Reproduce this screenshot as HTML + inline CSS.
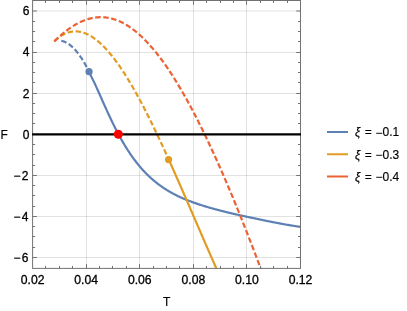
<!DOCTYPE html>
<html><head><meta charset="utf-8"><title>F vs T</title>
<style>html,body{margin:0;padding:0;background:#fff;}svg{display:block;will-change:transform;}body{font-family:"Liberation Sans",sans-serif;}</style>
</head><body>
<svg width="407" height="311" viewBox="0 0 407 311">
<rect width="407" height="311" fill="#fff"/>
<path d="M86.50,0.50 V268.40 M139.50,0.50 V268.40 M193.50,0.50 V268.40 M246.50,0.50 V268.40" stroke="#000" stroke-opacity="0.115" stroke-width="1" fill="none"/>
<path d="M32.60,257.50 H300.50 M32.60,216.50 H300.50 M32.60,175.50 H300.50 M32.60,93.50 H300.50 M32.60,52.50 H300.50 M32.60,11.00 H300.50" stroke="#000" stroke-opacity="0.115" stroke-width="1" fill="none"/>
<clipPath id="c"><rect x="32.60" y="0.50" width="267.90" height="267.90"/></clipPath>
<g clip-path="url(#c)" fill="none" stroke-width="2.2" stroke-linejoin="round">
<path d="M61.30,40.82 L61.77,40.92 L62.24,41.03 L62.71,41.16 L63.18,41.30 L63.65,41.45 L64.12,41.62 L64.59,41.81 L65.06,42.01 L65.53,42.22 L65.99,42.45 L66.46,42.70 L66.93,42.96 L67.40,43.23 L67.87,43.52 L68.34,43.82 L68.81,44.13 L69.28,44.47 L69.75,44.81 L70.22,45.17 L70.69,45.55 L71.16,45.94 L71.63,46.34 L72.10,46.76 L72.57,47.19 L73.04,47.64 L73.51,48.10 L73.98,48.58 L74.45,49.07 L74.92,49.58 L75.38,50.10 L75.85,50.63 L76.32,51.18 L76.79,51.75 L77.26,52.33 L77.73,52.92 L78.20,53.53 L78.67,54.15 L79.14,54.79 L79.61,55.44 L80.08,56.11 L80.55,56.79 L81.02,57.49 L81.49,58.20 L81.96,58.92 L82.43,59.66 L82.90,60.42 L83.37,61.19 L83.84,61.97 L84.31,62.77 L84.77,63.58 L85.24,64.41 L85.71,65.25 L86.18,66.11 L86.65,66.98 L87.12,67.86 L87.59,68.76 L88.06,69.68 L88.53,70.61 L89.00,71.55" stroke="#5E81B5" stroke-dasharray="5.5 2.53"/>
<path d="M88.70,71.83 L89.41,73.06 L90.12,74.34 L90.83,75.66 L91.54,77.03 L92.25,78.43 L92.95,79.86 L93.66,81.32 L94.37,82.81 L95.08,84.32 L95.79,85.86 L96.50,87.40 L97.21,88.96 L97.92,90.54 L98.63,92.12 L99.34,93.71 L100.04,95.30 L100.75,96.90 L101.46,98.49 L102.17,100.09 L102.88,101.69 L103.59,103.28 L104.30,104.86 L105.01,106.45 L105.72,108.02 L106.43,109.59 L107.13,111.14 L107.84,112.69 L108.55,114.22 L109.26,115.75 L109.97,117.26 L110.68,118.76 L111.39,120.25 L112.10,121.72 L112.81,123.18 L113.52,124.62 L114.23,126.05 L114.93,127.46 L115.64,128.86 L116.35,130.24 L117.06,131.60 L117.77,132.95 L118.48,134.28 L119.19,135.59 L119.90,136.89 L120.61,138.17 L121.32,139.43 L122.02,140.68 L122.73,141.91 L123.44,143.12 L124.15,144.31 L124.86,145.49 L125.57,146.65 L126.28,147.80 L126.99,148.92 L127.70,150.03 L128.41,151.12 L129.11,152.20 L129.82,153.26 L130.53,154.30 L131.24,155.33 L131.95,156.34 L132.66,157.34 L133.37,158.32 L134.08,159.28 L134.79,160.23 L135.50,161.16 L136.21,162.08 L136.91,162.98 L137.62,163.87 L138.33,164.75 L139.04,165.61 L139.75,166.45 L140.46,167.28 L141.17,168.10 L141.88,168.90 L142.59,169.69 L143.30,170.47 L144.00,171.23 L144.71,171.98 L145.42,172.72 L146.13,173.45 L146.84,174.16 L147.55,174.86 L148.26,175.55 L148.97,176.23 L149.68,176.89 L150.39,177.55 L151.09,178.19 L151.80,178.83 L152.51,179.45 L153.22,180.06 L153.93,180.66 L154.64,181.25 L155.35,181.83 L156.06,182.40 L156.77,182.96 L157.48,183.52 L158.18,184.06 L158.89,184.59 L159.60,185.12 L160.31,185.63 L161.02,186.14 L161.73,186.64 L162.44,187.13 L163.15,187.61 L163.86,188.09 L164.57,188.55 L165.28,189.01 L165.98,189.46 L166.69,189.91 L167.40,190.35 L168.11,190.78 L168.82,191.20 L169.53,191.62 L170.24,192.03 L170.95,192.43 L171.66,192.83 L172.37,193.22 L173.07,193.60 L173.78,193.98 L174.49,194.35 L175.20,194.72 L175.91,195.08 L176.62,195.44 L177.33,195.79 L178.04,196.14 L178.75,196.48 L179.46,196.81 L180.17,197.14 L180.89,197.47 L181.61,197.79 L182.33,198.11 L183.05,198.42 L183.77,198.73 L184.49,199.03 L185.21,199.33 L185.93,199.63 L186.65,199.92 L187.37,200.21 L188.09,200.49 L188.81,200.77 L189.53,201.05 L190.25,201.32 L190.97,201.59 L191.69,201.86 L192.41,202.12 L193.13,202.39 L193.85,202.64 L194.57,202.90 L195.28,203.15 L196.00,203.40 L196.72,203.64 L197.44,203.88 L198.16,204.12 L198.88,204.36 L199.60,204.60 L200.32,204.83 L201.03,205.06 L201.74,205.29 L202.44,205.51 L203.15,205.74 L203.86,205.96 L204.57,206.17 L205.28,206.39 L205.99,206.61 L206.70,206.82 L207.41,207.03 L208.12,207.24 L208.83,207.45 L209.54,207.65 L210.24,207.85 L210.95,208.06 L211.66,208.26 L212.37,208.45 L213.08,208.65 L213.79,208.85 L214.50,209.04 L215.21,209.23 L215.92,209.42 L216.63,209.61 L217.33,209.80 L218.04,209.99 L218.75,210.17 L219.46,210.36 L220.17,210.54 L220.88,210.72 L221.59,210.90 L222.30,211.08 L223.01,211.26 L223.72,211.44 L224.42,211.62 L225.13,211.79 L225.84,211.97 L226.55,212.14 L227.26,212.31 L227.97,212.48 L228.68,212.65 L229.39,212.82 L230.10,212.99 L230.81,213.16 L231.52,213.33 L232.22,213.49 L232.93,213.66 L233.64,213.82 L234.35,213.99 L235.06,214.15 L235.77,214.31 L236.48,214.47 L237.19,214.63 L237.90,214.79 L238.61,214.95 L239.31,215.11 L240.02,215.27 L240.73,215.43 L241.44,215.58 L242.15,215.74 L242.86,215.89 L243.57,216.05 L244.28,216.20 L244.99,216.35 L245.70,216.51 L246.40,216.66 L247.11,216.81 L247.82,216.96 L248.53,217.11 L249.24,217.26 L249.95,217.41 L250.66,217.56 L251.37,217.70 L252.08,217.85 L252.79,218.00 L253.49,218.14 L254.20,218.29 L254.91,218.43 L255.62,218.59 L256.33,218.74 L257.04,218.89 L257.75,219.04 L258.46,219.19 L259.17,219.35 L259.88,219.50 L260.59,219.64 L261.29,219.79 L262.00,219.94 L262.71,220.09 L263.42,220.24 L264.13,220.38 L264.84,220.53 L265.55,220.67 L266.26,220.82 L266.97,220.96 L267.68,221.11 L268.38,221.25 L269.09,221.39 L269.80,221.53 L270.51,221.67 L271.22,221.81 L271.93,221.95 L272.64,222.09 L273.35,222.23 L274.06,222.36 L274.77,222.50 L275.47,222.64 L276.18,222.77 L276.89,222.91 L277.60,223.04 L278.31,223.17 L279.02,223.31 L279.73,223.44 L280.44,223.57 L281.15,223.70 L281.86,223.83 L282.57,223.96 L283.27,224.08 L283.98,224.21 L284.69,224.34 L285.40,224.46 L286.11,224.58 L286.82,224.71 L287.53,224.83 L288.24,224.95 L288.95,225.07 L289.66,225.19 L290.36,225.31 L291.07,225.43 L291.78,225.55 L292.49,225.66 L293.20,225.78 L293.91,225.89 L294.62,226.01 L295.33,226.12 L296.04,226.23 L296.75,226.34 L297.45,226.45 L298.16,226.56 L298.87,226.67 L299.58,226.77 L300.29,226.88 L301.00,226.98" stroke="#5E81B5"/>
<path d="M54.30,41.29 L54.72,40.89 L55.13,40.50 L55.55,40.12 L55.96,39.75 L56.38,39.38 L56.79,39.02 L57.21,38.68 L57.62,38.34 L58.04,38.01 L58.45,37.68 L58.87,37.37 L59.28,37.06 L59.70,36.77 L60.11,36.48 L60.53,36.20 L60.94,35.92 L61.36,35.66 L61.78,35.40 L62.19,35.16 L62.61,34.92 L63.02,34.69 L63.44,34.46 L63.85,34.25 L64.27,34.04 L64.68,33.84 L65.10,33.65 L65.51,33.47 L65.93,33.29 L66.34,33.12 L66.76,32.96 L67.17,32.81 L67.59,32.67 L68.00,32.53 L68.42,32.40 L68.84,32.28 L69.25,32.17 L69.67,32.07 L70.08,31.97 L70.50,31.88 L70.91,31.79 L71.33,31.72 L71.74,31.65 L72.16,31.59 L72.57,31.54 L72.99,31.49 L73.40,31.46 L73.82,31.43 L74.23,31.40 L74.65,31.39 L75.06,31.38 L75.48,31.38 L75.89,31.38 L76.31,31.39 L76.73,31.41 L77.14,31.44 L77.56,31.47 L77.97,31.51 L78.39,31.56 L78.80,31.62 L79.22,31.68 L79.63,31.75 L80.05,31.82 L80.46,31.91 L80.88,32.00 L81.29,32.09 L81.71,32.19 L82.12,32.30 L82.54,32.42 L82.95,32.54 L83.37,32.67 L83.79,32.81 L84.20,32.95 L84.62,33.10 L85.03,33.26 L85.45,33.42 L85.86,33.59 L86.28,33.76 L86.69,33.95 L87.11,34.13 L87.52,34.33 L87.94,34.53 L88.35,34.74 L88.77,34.95 L89.18,35.17 L89.60,35.39 L90.01,35.63 L90.43,35.86 L90.85,36.11 L91.26,36.36 L91.68,36.61 L92.09,36.88 L92.51,37.14 L92.92,37.42 L93.34,37.70 L93.75,37.98 L94.17,38.28 L94.58,38.57 L95.00,38.88 L95.41,39.19 L95.83,39.50 L96.24,39.82 L96.66,40.15 L97.07,40.48 L97.49,40.82 L97.91,41.16 L98.32,41.51 L98.74,41.87 L99.15,42.23 L99.57,42.59 L99.98,42.96 L100.40,43.34 L100.81,43.72 L101.23,44.11 L101.64,44.50 L102.06,44.90 L102.47,45.31 L102.89,45.71 L103.30,46.13 L103.72,46.55 L104.13,46.97 L104.55,47.40 L104.97,47.84 L105.38,48.28 L105.80,48.72 L106.21,49.17 L106.63,49.63 L107.04,50.09 L107.46,50.55 L107.87,51.02 L108.29,51.50 L108.70,51.98 L109.12,52.46 L109.53,52.95 L109.95,53.45 L110.36,53.94 L110.78,54.45 L111.19,54.96 L111.61,55.47 L112.03,55.99 L112.44,56.51 L112.86,57.04 L113.27,57.57 L113.69,58.11 L114.10,58.65 L114.52,59.19 L114.93,59.74 L115.35,60.30 L115.76,60.86 L116.18,61.42 L116.59,61.99 L117.01,62.56 L117.42,63.14 L117.84,63.72 L118.25,64.30 L118.67,64.89 L119.08,65.49 L119.50,66.08 L119.92,66.69 L120.33,67.29 L120.75,67.90 L121.16,68.52 L121.58,69.14 L121.99,69.76 L122.41,70.38 L122.82,71.01 L123.24,71.65 L123.65,72.29 L124.07,72.93 L124.48,73.58 L124.90,74.23 L125.31,74.88 L125.73,75.54 L126.14,76.20 L126.56,76.86 L126.98,77.53 L127.39,78.20 L127.81,78.88 L128.22,79.56 L128.64,80.24 L129.05,80.93 L129.47,81.62 L129.88,82.32 L130.30,83.01 L130.71,83.72 L131.13,84.42 L131.54,85.13 L131.96,85.84 L132.37,86.56 L132.79,87.27 L133.20,88.00 L133.62,88.72 L134.04,89.45 L134.45,90.18 L134.87,90.92 L135.28,91.65 L135.70,92.40 L136.11,93.14 L136.53,93.89 L136.94,94.64 L137.36,95.39 L137.77,96.15 L138.19,96.91 L138.60,97.67 L139.02,98.44 L139.43,99.21 L139.85,99.98 L140.26,100.75 L140.68,101.53 L141.10,102.31 L141.51,103.10 L141.93,103.88 L142.34,104.67 L142.76,105.46 L143.17,106.26 L143.59,107.06 L144.00,107.86 L144.42,108.66 L144.83,109.47 L145.25,110.27 L145.66,111.08 L146.08,111.90 L146.49,112.71 L146.91,113.53 L147.32,114.35 L147.74,115.18 L148.16,116.00 L148.57,116.83 L148.99,117.66 L149.40,118.49 L149.82,119.33 L150.23,120.17 L150.65,121.01 L151.06,121.85 L151.48,122.70 L151.89,123.54 L152.31,124.39 L152.72,125.24 L153.14,126.10 L153.55,126.95 L153.97,127.81 L154.38,128.67 L154.80,129.53 L155.22,130.40 L155.63,131.26 L156.05,132.13 L156.46,133.00 L156.88,133.88 L157.29,134.75 L157.71,135.63 L158.12,136.50 L158.54,137.38 L158.95,138.27 L159.37,139.15 L159.78,140.04 L160.20,140.92 L160.61,141.81 L161.03,142.70 L161.44,143.60 L161.86,144.49 L162.27,145.39 L162.69,146.28 L163.11,147.18 L163.52,148.08 L163.94,148.99 L164.35,149.89 L164.77,150.80 L165.18,151.70 L165.60,152.61 L166.01,153.52 L166.43,154.43 L166.84,155.35 L167.26,156.26 L167.67,157.18 L168.09,158.10" stroke="#E19C24" stroke-dasharray="5.5 2.53"/>
<path d="M168.50,159.01 L168.92,159.93 L169.33,160.86 L169.75,161.78 L170.17,162.70 L170.58,163.63 L171.00,164.55 L171.41,165.48 L171.83,166.41 L172.24,167.34 L172.66,168.27 L173.07,169.20 L173.49,170.13 L173.90,171.07 L174.32,172.00 L174.73,172.94 L175.15,173.88 L175.56,174.82 L175.98,175.76 L176.39,176.70 L176.81,177.64 L177.23,178.58 L177.64,179.52 L178.06,180.47 L178.47,181.41 L178.89,182.36 L179.30,183.30 L179.72,184.25 L180.13,185.20 L180.55,186.14 L180.96,187.09 L181.38,188.04 L181.79,188.99 L182.21,189.95 L182.62,190.90 L183.04,191.85 L183.45,192.80 L183.87,193.76 L184.29,194.71 L184.70,195.66 L185.12,196.62 L185.53,197.58 L185.95,198.53 L186.36,199.49 L186.78,200.44 L187.19,201.40 L187.61,202.36 L188.02,203.32 L188.44,204.28 L188.85,205.24 L189.27,206.19 L189.68,207.15 L190.10,208.11 L190.51,209.07 L190.93,210.03 L191.35,210.99 L191.76,211.95 L192.18,212.91 L192.59,213.88 L193.01,214.84 L193.42,215.80 L193.84,216.76 L194.25,217.72 L194.67,218.68 L195.08,219.64 L195.50,220.60 L195.91,221.56 L196.33,222.53 L196.74,223.49 L197.16,224.45 L197.57,225.41 L197.99,226.37 L198.41,227.33 L198.82,228.29 L199.24,229.25 L199.65,230.21 L200.07,231.17 L200.48,232.13 L200.90,233.09 L201.31,234.05 L201.73,235.01 L202.14,235.97 L202.56,236.93 L202.97,237.88 L203.39,238.84 L203.80,239.80 L204.22,240.76 L204.63,241.71 L205.05,242.67 L205.46,243.62 L205.88,244.58 L206.30,245.53 L206.71,246.49 L207.13,247.44 L207.54,248.40 L207.96,249.35 L208.37,250.30 L208.79,251.25 L209.20,252.20 L209.62,253.15 L210.03,254.10 L210.45,255.05 L210.86,256.00 L211.28,256.95 L211.69,257.89 L212.11,258.84 L212.52,259.78 L212.94,260.73 L213.36,261.67 L213.77,262.62 L214.19,263.56 L214.60,264.50 L215.02,265.44 L215.43,266.38 L215.85,267.32 L216.26,268.25 L216.68,269.19 L217.09,270.13 L217.51,271.06 L217.92,272.00 L218.34,272.93 L218.75,273.86 L219.17,274.79 L219.58,275.72 L220.00,276.65" stroke="#E19C24"/>
<path d="M54.30,41.38 L55.34,40.36 L56.39,39.36 L57.43,38.37 L58.47,37.40 L59.52,36.46 L60.56,35.53 L61.61,34.62 L62.65,33.74 L63.69,32.87 L64.74,32.03 L65.78,31.21 L66.82,30.41 L67.87,29.63 L68.91,28.87 L69.96,28.14 L71.00,27.42 L72.04,26.73 L73.09,26.07 L74.13,25.42 L75.17,24.80 L76.22,24.20 L77.26,23.63 L78.31,23.08 L79.35,22.55 L80.39,22.05 L81.44,21.57 L82.48,21.11 L83.52,20.68 L84.57,20.28 L85.61,19.90 L86.66,19.54 L87.70,19.21 L88.74,18.90 L89.79,18.62 L90.83,18.36 L91.87,18.13 L92.92,17.93 L93.96,17.74 L95.01,17.59 L96.05,17.46 L97.09,17.35 L98.14,17.28 L99.18,17.22 L100.22,17.19 L101.27,17.19 L102.31,17.22 L103.35,17.27 L104.40,17.34 L105.44,17.44 L106.49,17.57 L107.53,17.72 L108.57,17.90 L109.62,18.10 L110.66,18.33 L111.70,18.59 L112.75,18.87 L113.79,19.18 L114.84,19.51 L115.88,19.87 L116.92,20.25 L117.97,20.66 L119.01,21.10 L120.05,21.56 L121.10,22.05 L122.14,22.56 L123.19,23.10 L124.23,23.66 L125.27,24.25 L126.32,24.86 L127.36,25.50 L128.40,26.16 L129.45,26.85 L130.49,27.56 L131.54,28.30 L132.58,29.06 L133.62,29.85 L134.67,30.66 L135.71,31.50 L136.75,32.36 L137.80,33.24 L138.84,34.15 L139.88,35.09 L140.93,36.04 L141.97,37.02 L143.02,38.03 L144.06,39.06 L145.10,40.11 L146.15,41.18 L147.19,42.28 L148.23,43.40 L149.28,44.54 L150.32,45.71 L151.37,46.90 L152.41,48.11 L153.45,49.35 L154.50,50.60 L155.54,51.88 L156.58,53.19 L157.63,54.51 L158.67,55.85 L159.72,57.22 L160.76,58.61 L161.80,60.02 L162.85,61.45 L163.89,62.90 L164.93,64.37 L165.98,65.86 L167.02,67.38 L168.07,68.91 L169.11,70.46 L170.15,72.04 L171.20,73.63 L172.24,75.25 L173.28,76.88 L174.33,78.53 L175.37,80.21 L176.42,81.90 L177.46,83.61 L178.50,85.34 L179.55,87.09 L180.59,88.85 L181.63,90.64 L182.68,92.44 L183.72,94.26 L184.76,96.10 L185.81,97.96 L186.85,99.83 L187.90,101.72 L188.94,103.63 L189.98,105.56 L191.03,107.50 L192.07,109.46 L193.11,111.44 L194.16,113.43 L195.20,115.44 L196.25,117.46 L197.29,119.50 L198.33,121.56 L199.38,123.63 L200.42,125.72 L201.46,127.83 L202.51,129.95 L203.55,132.08 L204.60,134.23 L205.64,136.39 L206.68,138.57 L207.73,140.76 L208.77,142.97 L209.81,145.19 L210.86,147.43 L211.90,149.68 L212.95,151.94 L213.99,154.22 L215.03,156.51 L216.08,158.81 L217.12,161.13 L218.16,163.46 L219.21,165.81 L220.25,168.16 L221.29,170.53 L222.34,172.92 L223.38,175.31 L224.43,177.72 L225.47,180.14 L226.51,182.57 L227.56,185.02 L228.60,187.47 L229.64,189.94 L230.69,192.42 L231.73,194.91 L232.78,197.42 L233.82,199.93 L234.86,202.46 L235.91,205.00 L236.95,207.55 L237.99,210.11 L239.04,212.69 L240.08,215.27 L241.13,217.87 L242.17,220.48 L243.21,223.09 L244.26,225.72 L245.30,228.36 L246.34,231.01 L247.39,233.68 L248.43,236.35 L249.48,239.03 L250.52,241.73 L251.56,244.43 L252.61,247.15 L253.65,249.88 L254.69,252.62 L255.74,255.36 L256.78,258.12 L257.83,260.89 L258.87,263.68 L259.91,266.47 L260.96,269.27 L262.00,272.08" stroke="#EB6235" stroke-dasharray="5.5 2.53"/>
</g>
<rect x="32.60" y="0.50" width="267.90" height="267.90" fill="none" stroke="#727272" stroke-width="1"/>
<path d="M45.50,268.40 v-2.50 M45.50,0.50 v2.50 M59.50,268.40 v-2.50 M59.50,0.50 v2.50 M72.50,268.40 v-2.50 M72.50,0.50 v2.50 M86.50,268.40 v-4.30 M86.50,0.50 v4.30 M99.50,268.40 v-2.50 M99.50,0.50 v2.50 M112.50,268.40 v-2.50 M112.50,0.50 v2.50 M126.50,268.40 v-2.50 M126.50,0.50 v2.50 M139.50,268.40 v-4.30 M139.50,0.50 v4.30 M153.50,268.40 v-2.50 M153.50,0.50 v2.50 M166.50,268.40 v-2.50 M166.50,0.50 v2.50 M179.50,268.40 v-2.50 M179.50,0.50 v2.50 M193.50,268.40 v-4.30 M193.50,0.50 v4.30 M206.50,268.40 v-2.50 M206.50,0.50 v2.50 M220.50,268.40 v-2.50 M220.50,0.50 v2.50 M233.50,268.40 v-2.50 M233.50,0.50 v2.50 M246.50,268.40 v-4.30 M246.50,0.50 v4.30 M260.50,268.40 v-2.50 M260.50,0.50 v2.50 M273.50,268.40 v-2.50 M273.50,0.50 v2.50 M287.50,268.40 v-2.50 M287.50,0.50 v2.50 M32.60,257.50 h4.30 M300.50,257.50 h-4.30 M32.60,247.50 h2.50 M300.50,247.50 h-2.50 M32.60,236.50 h2.50 M300.50,236.50 h-2.50 M32.60,226.50 h2.50 M300.50,226.50 h-2.50 M32.60,216.50 h4.30 M300.50,216.50 h-4.30 M32.60,206.50 h2.50 M300.50,206.50 h-2.50 M32.60,195.50 h2.50 M300.50,195.50 h-2.50 M32.60,185.50 h2.50 M300.50,185.50 h-2.50 M32.60,175.50 h4.30 M300.50,175.50 h-4.30 M32.60,165.50 h2.50 M300.50,165.50 h-2.50 M32.60,154.50 h2.50 M300.50,154.50 h-2.50 M32.60,144.50 h2.50 M300.50,144.50 h-2.50 M32.60,134.50 h4.30 M300.50,134.50 h-4.30 M32.60,123.50 h2.50 M300.50,123.50 h-2.50 M32.60,113.50 h2.50 M300.50,113.50 h-2.50 M32.60,103.50 h2.50 M300.50,103.50 h-2.50 M32.60,93.50 h4.30 M300.50,93.50 h-4.30 M32.60,82.50 h2.50 M300.50,82.50 h-2.50 M32.60,72.50 h2.50 M300.50,72.50 h-2.50 M32.60,62.50 h2.50 M300.50,62.50 h-2.50 M32.60,52.50 h4.30 M300.50,52.50 h-4.30 M32.60,41.50 h2.50 M300.50,41.50 h-2.50 M32.60,31.50 h2.50 M300.50,31.50 h-2.50 M32.60,21.50 h2.50 M300.50,21.50 h-2.50 M32.60,11.00 h4.30 M300.50,11.00 h-4.30" stroke="#727272" stroke-width="1" fill="none"/>
<path d="M32.10,134.35 H301.00" stroke="#000" stroke-width="2.4"/>
<circle cx="89.05" cy="71.7" r="3.6" fill="#5E81B5"/>
<circle cx="168.55" cy="159.6" r="3.6" fill="#E19C24"/>
<circle cx="118.3" cy="134.3" r="4.5" fill="#FF0000"/>
<g font-family="Liberation Sans, sans-serif" font-size="12" fill="#000" stroke="#000" stroke-width="0.15">
<text x="29.5" y="261.89" text-anchor="end" stroke-width="0.3"><tspan dx="-1.1" dy="0.6">−</tspan><tspan dx="1.1" dy="-0.6">6</tspan></text>
<text x="29.5" y="220.81" text-anchor="end" stroke-width="0.3"><tspan dx="-1.1" dy="0.6">−</tspan><tspan dx="1.1" dy="-0.6">4</tspan></text>
<text x="29.5" y="179.73" text-anchor="end" stroke-width="0.3"><tspan dx="-1.1" dy="0.6">−</tspan><tspan dx="1.1" dy="-0.6">2</tspan></text>
<text x="29.5" y="138.65" text-anchor="end" stroke-width="0.3">0</text>
<text x="29.5" y="97.57" text-anchor="end" stroke-width="0.3">2</text>
<text x="29.5" y="56.49" text-anchor="end" stroke-width="0.3">4</text>
<text x="29.5" y="15.41" text-anchor="end" stroke-width="0.3">6</text>
<text x="32.60" y="284.4" text-anchor="middle" stroke-width="0.3" font-size="12.2">0.02</text>
<text x="86.18" y="284.4" text-anchor="middle" stroke-width="0.3" font-size="12.2">0.04</text>
<text x="139.76" y="284.4" text-anchor="middle" stroke-width="0.3" font-size="12.2">0.06</text>
<text x="193.34" y="284.4" text-anchor="middle" stroke-width="0.3" font-size="12.2">0.08</text>
<text x="246.92" y="284.4" text-anchor="middle" stroke-width="0.3" font-size="12.2">0.10</text>
<text x="300.50" y="284.4" text-anchor="middle" stroke-width="0.3" font-size="12.2">0.12</text>
<text x="0.6" y="139.2">F</text>
<text x="166.6" y="306.1" text-anchor="middle">T</text>
<path d="M327,132.00 H348" stroke="#5E81B5" stroke-width="2"/>
<text y="136.40"><tspan x="355" font-style="italic">ξ</tspan><tspan x="364.7">=</tspan><tspan x="375.6" dy="0.5">−</tspan><tspan dy="-0.5">0.1</tspan></text>
<path d="M327,154.25 H348" stroke="#E19C24" stroke-width="2"/>
<text y="158.65"><tspan x="355" font-style="italic">ξ</tspan><tspan x="364.7">=</tspan><tspan x="375.6" dy="0.5">−</tspan><tspan dy="-0.5">0.3</tspan></text>
<path d="M327,176.50 H348" stroke="#EB6235" stroke-width="2"/>
<text y="180.90"><tspan x="355" font-style="italic">ξ</tspan><tspan x="364.7">=</tspan><tspan x="375.6" dy="0.5">−</tspan><tspan dy="-0.5">0.4</tspan></text>
</g>
</svg>
</body></html>
